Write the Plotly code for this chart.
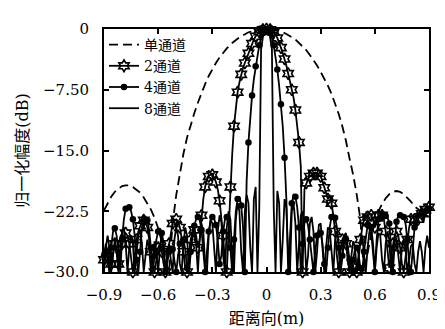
import numpy as np
import plotly.graph_objects as go

# ---------------- data ----------------
x_single = np.round(np.linspace(-0.9, 0.9, 91), 2)
single_db = [
    -22.4, -21.5, -20.7, -20.1, -19.7, -19.4, -19.3, -19.3, -19.5, -19.8,
    -20.2, -20.8, -21.5, -22.3, -23.3, -24.6, -26.3, -28.7, -30.0, -24.0,
    -20.5, -17.8, -15.4, -13.4, -11.8, -10.4, -9.1, -7.9, -6.8, -5.8,
    -4.9, -4.2, -3.5, -2.9, -2.4, -1.9, -1.5, -1.2, -0.9, -0.6,
    -0.4, -0.3, -0.2, -0.1, 0.0,
    0.0,
    0.0, -0.1, -0.2, -0.3, -0.5, -0.7, -1.0, -1.3, -1.7, -2.1,
    -2.6, -3.2, -3.8, -4.5, -5.3, -6.1, -7.0, -8.0, -9.2, -10.5,
    -12.0, -13.8, -16.0, -18.0, -20.5, -23.5, -30.0, -27.5, -25.3, -23.7,
    -22.5, -21.6, -20.9, -20.4, -20.1, -20.0, -20.1, -20.4, -20.8, -21.3,
    -21.9, -22.3, -22.6, -22.9, -23.2,
]

x_fine = np.round(np.linspace(-0.9, 0.9, 181), 2)
ch2_db = [
    -28.5, -27.0, -28.0, -30.0, -29.0, -27.5, -26.5, -27.5, -29.0, -28.0,
    -26.5, -25.6, -25.2, -25.5, -26.5, -28.5, -30.0, -28.0, -26.0, -25.0,
    -24.3, -23.8, -23.6, -23.8, -24.5, -25.8, -27.5, -29.5, -30.0, -28.5,
    -27.0, -26.5, -27.5, -29.0, -30.0, -28.0, -26.5, -25.0, -24.0, -23.6,
    -23.5, -23.8, -24.5, -25.8, -27.5, -29.5, -30.0, -28.0, -26.0, -25.2,
    -24.8, -25.5, -27.0, -26.0, -23.0, -21.0, -19.5, -18.6, -18.2, -18.0,
    -18.0, -18.3, -18.9, -19.8, -21.2, -23.0, -25.5, -29.0, -30.0, -25.0,
    -19.5, -15.5, -12.0, -9.5, -7.8, -6.6, -5.6, -4.8, -4.2, -3.6,
    -3.0, -2.4, -1.8, -1.3, -0.9, -0.6, -0.35, -0.2, -0.08, -0.02,
    0.0,
    -0.02, -0.08, -0.2, -0.4, -0.7, -1.1, -1.6, -2.3, -3.0, -3.7,
    -4.5, -5.5, -6.5, -7.5, -8.5, -10.0, -12.0, -14.0, -17.0, -30.0,
    -19.8, -19.0, -18.5, -18.2, -18.0, -17.8, -17.7, -17.8, -18.0, -18.2,
    -18.8, -19.6, -20.5, -21.0, -20.5, -21.5, -23.0, -25.0, -28.0, -30.0,
    -27.5, -26.0, -25.5, -26.5, -28.5, -30.0, -28.5, -29.4, -30.0, -30.0,
    -28.0, -26.0, -24.5, -23.6, -23.0, -23.2, -22.8, -23.0, -23.5, -24.5,
    -23.9, -23.0, -22.8, -23.0, -23.5, -25.0, -27.0, -29.5, -28.0, -26.5,
    -25.5, -25.0, -25.5, -27.0, -29.0, -30.0, -28.0, -26.0, -24.5, -23.5,
    -23.2, -23.5, -24.5, -23.5, -23.0, -22.8, -22.5, -22.3, -22.0, -22.0,
]
ch4_db = [
    -28.0, -26.5, -27.5, -30.0, -27.0, -25.0, -24.6, -25.5, -27.5, -30.0,
    -26.0, -23.5, -22.2, -21.9, -22.0, -22.5, -23.5, -25.5, -28.5, -30.0,
    -27.5, -24.5, -23.5, -23.2, -23.6, -24.8, -27.0, -30.0, -28.0, -26.0,
    -25.0, -24.6, -25.2, -27.0, -30.0, -29.0, -27.5, -26.8, -27.2, -28.8,
    -30.0, -28.0, -26.5, -25.8, -26.0, -27.2, -29.5, -30.0, -27.5, -25.5,
    -24.3, -23.5, -23.2, -23.6, -24.8, -27.0, -30.0, -27.5, -25.0, -23.8,
    -23.2, -23.4, -24.2, -26.0, -29.0, -28.0, -25.0, -23.5, -23.2, -24.0,
    -27.0, -30.0, -26.0, -22.5, -21.0, -20.7, -21.8, -24.5, -30.0, -18.8,
    -14.0, -10.5, -8.2, -6.2, -4.6, -3.2, -2.0, -1.1, -0.5, -0.1,
    0.0,
    -0.1, -0.5, -1.1, -2.0, -3.4, -5.0, -7.0, -9.3, -12.0, -15.9,
    -21.0, -30.0, -25.0, -21.5, -20.5, -20.7, -22.0, -24.5, -30.0, -26.5,
    -24.0, -23.5, -24.2, -26.0, -28.5, -30.0, -27.5, -25.5, -24.8, -25.2,
    -26.5, -29.0, -30.0, -27.0, -24.5, -23.2, -22.9, -23.3, -24.5, -27.0,
    -30.0, -28.0, -26.5, -26.0, -26.8, -28.5, -30.0, -28.5, -27.2, -27.0,
    -27.8, -29.5, -30.0, -27.5, -25.5, -24.2, -23.8, -24.5, -26.5, -30.0,
    -26.0, -23.5, -23.0, -23.0, -23.0, -23.1, -23.2, -24.0, -26.5, -30.0,
    -26.5, -23.8, -23.0, -23.0, -23.0, -23.2, -24.0, -26.0, -29.0, -30.0,
    -27.0, -24.5, -23.5, -23.0, -22.5, -22.8, -23.8, -22.5, -21.8, -22.2,
]
ch8_db = [
    -30.0, -27.0, -25.5, -27.0, -30.0, -28.0, -26.0, -27.5, -30.0, -27.0,
    -25.0, -24.5, -26.5, -30.0, -27.0, -25.5, -26.5, -30.0, -28.0, -25.5,
    -24.8, -26.5, -30.0, -27.5, -26.0, -27.0, -30.0, -28.5, -26.2, -27.5,
    -30.0, -27.0, -25.2, -26.5, -30.0, -28.0, -26.5, -28.5, -30.0, -26.0,
    -24.5, -25.5, -29.0, -30.0, -26.5, -24.5, -25.5, -30.0, -27.0, -24.8,
    -24.2, -26.5, -30.0, -26.0, -24.0, -25.0, -29.0, -30.0, -25.5, -23.5,
    -24.0, -27.5, -30.0, -25.0, -23.0, -23.8, -28.0, -30.0, -24.5, -22.5,
    -23.5, -28.0, -30.0, -23.5, -21.5, -22.5, -27.5, -30.0, -22.5, -20.5,
    -21.5, -27.0, -30.0, -21.0, -19.5, -30.0, -22.0, -2.5, -1.0, -0.3,
    0.0,
    -0.3, -1.0, -2.5, -22.0, -30.0, -20.0, -21.5, -30.0, -26.0, -21.0,
    -22.0, -28.0, -30.0, -22.5, -21.5, -24.0, -30.0, -27.0, -23.0, -22.5,
    -25.0, -30.0, -28.0, -24.0, -23.2, -25.0, -30.0, -27.5, -24.2, -24.0,
    -26.5, -30.0, -27.0, -24.5, -24.8, -28.0, -30.0, -26.0, -25.0, -26.5,
    -30.0, -28.0, -25.5, -25.2, -27.5, -30.0, -28.0, -26.2, -26.8, -30.0,
    -28.0, -26.0, -25.5, -27.5, -30.0, -27.0, -25.0, -25.2, -28.0, -30.0,
    -27.0, -25.2, -25.5, -28.5, -30.0, -26.5, -25.0, -26.0, -30.0, -28.0,
    -26.0, -25.8, -28.0, -30.0, -27.0, -26.0, -27.2, -30.0, -28.5, -26.8,
    -26.5, -29.0, -30.0, -27.5, -26.2, -27.5, -30.0, -27.0, -25.5, -27.0,
]
for name, arr, xs in [("single", single_db, x_single), ("ch2", ch2_db, x_fine),
                      ("ch4", ch4_db, x_fine), ("ch8", ch8_db, x_fine)]:
    assert len(arr) == len(xs), (name, len(arr), len(xs))

x_ticks = [-0.9, -0.6, -0.3, 0, 0.3, 0.6, 0.9]
x_ticktext = ["\u22120.9", "\u22120.6", "\u22120.3", "0", "0.3", "0.6", "0.9"]
y_ticks = [0, -7.5, -15, -22.5, -30]
y_ticktext = ["0", "\u22127.50", "\u221215.0", "\u221222.5", "\u221230.0"]
names = ["单通道", "2通道", "4通道", "8通道"]

FONT = "DejaVu Serif, Noto Sans CJK SC, serif"
BLK = "black"
LW = 1.8
STAR = dict(symbol="hexagram-open", size=9, color=BLK, line=dict(width=1.6, color=BLK))
DOT = dict(symbol="circle", size=6.5, color=BLK)

fig = go.Figure()
# data lines
fig.add_trace(go.Scatter(x=x_fine, y=ch8_db, mode="lines", line=dict(color=BLK, width=LW),
                         showlegend=False))
fig.add_trace(go.Scatter(x=x_fine, y=ch4_db, mode="lines", line=dict(color=BLK, width=LW),
                         showlegend=False))
fig.add_trace(go.Scatter(x=x_fine, y=ch2_db, mode="lines", line=dict(color=BLK, width=LW),
                         showlegend=False))
fig.add_trace(go.Scatter(x=x_single, y=single_db, mode="lines",
                         line=dict(color=BLK, width=LW, dash="9px,5px"), showlegend=False))
# markers (every other sample)
fig.add_trace(go.Scatter(x=x_fine[::2], y=ch4_db[::2], mode="markers", cliponaxis=False,
                         marker=DOT, showlegend=False))
fig.add_trace(go.Scatter(x=x_fine[::2], y=ch2_db[::2], mode="markers", cliponaxis=False,
                         marker=STAR, showlegend=False))
# legend entries
fig.add_trace(go.Scatter(x=[None], y=[None], mode="lines", name=names[0],
                         line=dict(color=BLK, width=LW, dash="9px,5px")))
fig.add_trace(go.Scatter(x=[None], y=[None], mode="lines+markers", name=names[1],
                         line=dict(color=BLK, width=LW), marker=STAR))
fig.add_trace(go.Scatter(x=[None], y=[None], mode="lines+markers", name=names[2],
                         line=dict(color=BLK, width=LW), marker=DOT))
fig.add_trace(go.Scatter(x=[None], y=[None], mode="lines", name=names[3],
                         line=dict(color=BLK, width=LW)))

axis_common = dict(showline=True, linewidth=2, linecolor=BLK, mirror="ticks",
                   ticks="inside", ticklen=5, tickwidth=1.5, tickcolor=BLK,
                   showgrid=False, zeroline=False,
                   tickfont=dict(family=FONT, size=15, color=BLK))
fig.update_layout(
    width=445, height=329, autosize=False,
    margin=dict(l=96, r=13, t=18, b=57),
    paper_bgcolor="white", plot_bgcolor="white",
    font=dict(family=FONT, color=BLK),
    xaxis=dict(range=[-0.9, 0.9], tickvals=x_ticks, ticktext=x_ticktext,
               ticklabelstandoff=8,
               title=dict(text="距离向(m)", font=dict(family=FONT, size=16), standoff=10),
               **axis_common),
    yaxis=dict(range=[-30, 0], tickvals=y_ticks, ticktext=y_ticktext,
               ticklabelstandoff=10,
               title=dict(text="归一化幅度(dB)", font=dict(family=FONT, size=16), standoff=10),
               **axis_common),
    legend=dict(x=0.0, y=1.0, xanchor="left", yanchor="top",
                bgcolor="rgba(0,0,0,0)", tracegroupgap=0,
                font=dict(family=FONT, size=14, color=BLK)),
)
fig.write_html("out.html")
